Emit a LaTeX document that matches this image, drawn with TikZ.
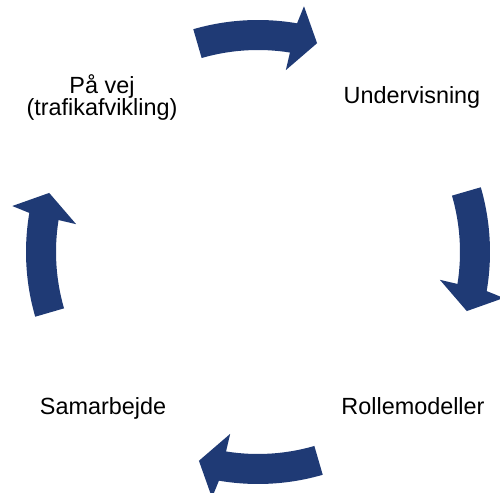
\documentclass[tikz,border=0pt]{standalone}
\usepackage{fontspec}
\setmainfont{Liberation Sans}
\definecolor{cyclenavy}{HTML}{1F3A75}
\tikzset{
  cyclelabel/.style={font=\fontsize{23.4}{22.5}\selectfont, anchor=base, inner sep=0pt, align=center},
  cyclearrow/.style={fill=cyclenavy, draw=none}
}
\begin{document}
\begin{tikzpicture}[x=1pt, y=1pt]
\useasboundingbox (0,0) rectangle (500,492);
\coordinate (hub) at (258,240);

% Curved arrows
\foreach \i in {0,1,2,3} {
  \begin{scope}[shift={(hub)}, rotate=-90*\i]
    \fill[cyclearrow] (106.2:232) arc[start angle=106.2, end angle=80.3, radius=232]
      -- (79.4:250) -- (74.2:217) -- (81.3:184) -- (80.9:202)
      arc[start angle=80.9, end angle=106.2, radius=202] -- cycle;
  \end{scope}
}

% Labels
\node[cyclelabel] (undervisning) at (412,388) {Undervisning};
\node[cyclelabel] (rollemodeller) at (413,77) {Rollemodeller};
\node[cyclelabel] (samarbejde) at (103,77) {Samarbejde};
\node[cyclelabel] (paavej) at (102,376) {På vej\\(trafikafvikling)};
\end{tikzpicture}
\end{document}
